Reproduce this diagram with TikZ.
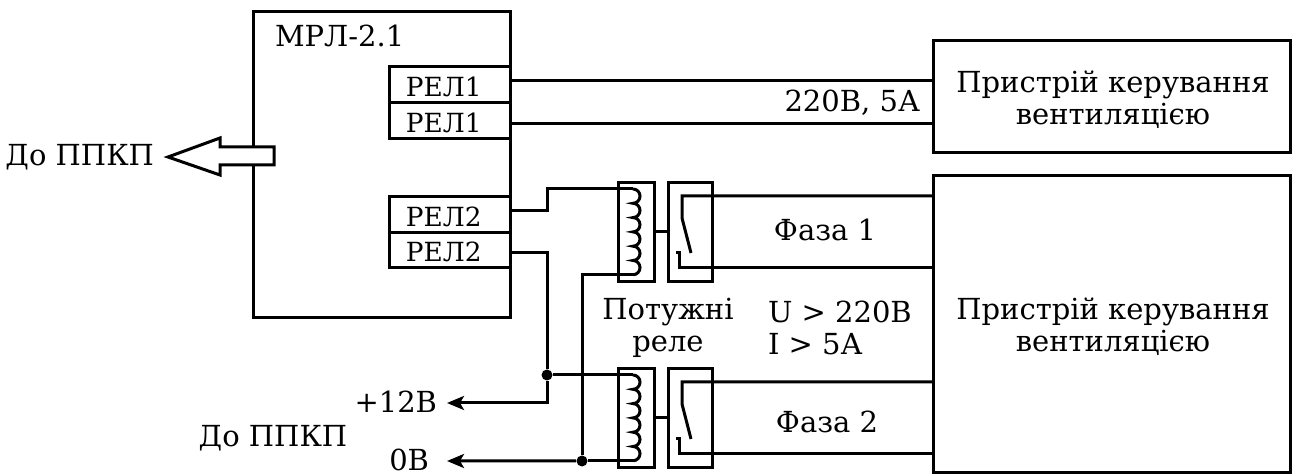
\documentclass[tikz,border=0pt]{standalone}
\usepackage{fontspec}
\setmainfont{DejaVu Serif}
\usetikzlibrary{arrows.meta, positioning, calc}
\tikzset{
  box/.style={
    rectangle, draw=black, line width=0.6mm, inner sep=0pt, outer sep=0pt
  },
  wire/.style={line width=0.6mm, line join=miter},
  arr/.style={-{Stealth[length=3.4mm, width=2.8mm, inset=0.8mm]}, wire},
  lbl/.style={font=\fontsize{16.5}{18}\selectfont, inner sep=0pt, outer sep=0pt, align=center},
  rel/.style={box, font=\fontsize{15}{16}\selectfont, minimum width=24.4mm, text height=13pt, text depth=0pt,
    execute at end node={\hspace{2.5mm}}},
  jn/.style={circle, fill=black, inner sep=0pt, minimum size=2.2mm},
}

\begin{document}
\begin{tikzpicture}[x=0.02cm, y=-0.02cm]
\useasboundingbox (0,0) rectangle (1295,475);

% --- Module ---
\node[box, minimum width=51.6mm, minimum height=61.4mm] (mrl) at (382,164.5) {};
\node[lbl, anchor=west] (mrlname) at (275,36) {МРЛ-2.1};
\node[rel, minimum height=7.2mm] (rel1a) at (450,85) {РЕЛ1};
\node[rel, minimum height=7.2mm] (rel1b) at (450,121) {РЕЛ1};
\node[rel, minimum height=7.2mm] (rel2a) at (450,215) {РЕЛ2};
\node[rel, minimum height=7mm] (rel2b) at (450,250.5) {РЕЛ2};

% --- Block arrow ---
\draw[wire, fill=white] (168,157) -- (220,138) -- (220,147) -- (274,147) -- (274,165)
  -- (220,165) -- (220,175) -- cycle;
\node[lbl, anchor=east] (ppkp1) at (154,157) {До ППКП};

% --- Devices ---
\node[box, minimum width=71.6mm, minimum height=22.6mm] (dev1) at (1112,96.5) {};
\node[box, minimum width=71.6mm, minimum height=59.6mm] (dev2) at (1112,324) {};
\node[lbl] (dev1name) at (1113,100) {Пристрій керування\\вентиляцією};
\node[lbl] (dev2name) at (1113,327) {Пристрій керування\\вентиляцією};

% --- Relays ---
\foreach \r/\y in {a/232, b/418} {
  \node[box, minimum width=7.2mm, minimum height=20mm] (coil\r) at (636,\y) {};
  \node[box, minimum width=8.8mm, minimum height=20mm] (cont\r) at (690,\y) {};
  \draw[wire] (coil\r) -- (cont\r);
  \coordinate (in\r) at (633,\y-43);
  \coordinate (out\r) at (633,\y+43);
  \coordinate (fix\r) at (682,\y-36);
  \coordinate (mov\r) at (679,\y+36);
  \draw[wire] (in\r) \foreach \i in {1,...,6} { arc[start angle=90, end angle=-90, x radius=1.4mm, y radius=1.43mm] };
  \draw[wire] (fix\r -| dev1.west) -- (fix\r) -- ++(0,22) -- (691,\y+21);
  \draw[wire] (mov\r -| dev1.west) -- (mov\r) -- (679,\y+21) -- (676,\y+21);
}

% --- Upper wires ---
\coordinate (t1a) at (511,81);
\coordinate (t1b) at (511,124);
\draw[wire] (t1a) -- (t1a -| dev1.west);
\draw[wire] (t1b) -- (t1b -| dev1.west);
\node[lbl, anchor=east] (rate) at (920,103) {220В, 5А};

% --- Coil wires ---
\coordinate (t2a) at (511,211);
\coordinate (t2b) at (511,253);
\node[lbl, anchor=east] (plus) at (437,402) {+12В};
\node[lbl, anchor=east] (zero) at (429,460) {0В};
\node[lbl] (ppkp2) at (273,438) {До ППКП};
\node[jn] (dotp) at (547,375) {};
\node[jn] (dotz) at (582,461) {};
\draw[wire] (t2a) -- ++(36,0) |- (ina);
\draw[wire] (t2b) -| (dotp);
\draw[arr] (dotp) |- ([xshift=2mm, yshift=-0.2mm]plus.east);
\draw[wire] (dotp) -- (inb);
\draw[wire] (outa) -| (dotz);
\draw[wire] (outb) -- (dotz);
\draw[arr] (dotz) -- ([xshift=3.6mm, yshift=-0.2mm]zero.east);

% --- Labels ---
\node[lbl] (phase1) at (825,230) {Фаза 1};
\node[lbl] (phase2) at (827,422) {Фаза 2};
\node[lbl] (power) at (668,328) {Потужні\\реле};
\node[lbl, anchor=west, align=left] (limits) at (768,328) {U > 220В\\I > 5А};

\end{tikzpicture}
\end{document}
